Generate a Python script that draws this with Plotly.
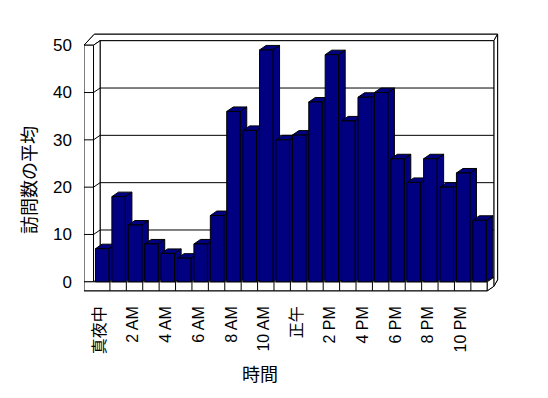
import plotly.graph_objects as go

# ---- data ----
hours = list(range(24))
visits = [7, 18, 12, 8, 6, 5, 8, 14, 36, 32, 49, 30, 31, 38, 48, 34, 39, 40, 26, 21, 26, 20, 23, 13]
tick_positions = [0, 2, 4, 6, 8, 10, 12, 14, 16, 18, 20, 22]
tick_labels = ["真夜中", "2 AM", "4 AM", "6 AM", "8 AM", "10 AM", "正午", "2 PM", "4 PM", "6 PM", "8 PM", "10 PM"]
y_ticks = [0, 10, 20, 30, 40, 50]
x_title = "時間"
y_title = "訪問数の平均"

# ---- 3D style constants (data units) ----
DX, DY = 0.40, 0.95      # depth offset
WX, WY = 0.23, 1.37      # wall thickness offset
L = -0.58                # outer left wall edge
F = 1.9                  # floor thickness
BX0, BX1 = 0.12, 0.94    # bar front face within category
N = len(hours)
YMAX = y_ticks[-1]
NAVY = "#000080"
FONT = "Liberation Sans, Noto Sans CJK JP, sans-serif"

traces = []


def poly(xs, ys, fill):
    traces.append(go.Scatter(x=xs + [xs[0]], y=ys + [ys[0]], mode="lines", fill="toself",
                             fillcolor=fill, line=dict(color="black", width=1),
                             hoverinfo="skip", showlegend=False))


def lines(segs):
    xs, ys = [], []
    for (x0, y0), (x1, y1) in segs:
        xs += [x0, x1, None]
        ys += [y0, y1, None]
    traces.append(go.Scatter(x=xs, y=ys, mode="lines", line=dict(color="black", width=1),
                             hoverinfo="skip", showlegend=False))


# outer silhouette
poly([L, L, L + DX + WX, N + DX + WX, N + DX + WX, N + DX, N],
     [-F, YMAX, YMAX + DY + WY, YMAX + DY + WY, DY + WY - F, DY - F, -F], "white")
# top strip of walls
poly([L, 0, DX, N + DX, N + DX + WX, L + DX + WX],
     [YMAX, YMAX, YMAX + DY, YMAX + DY, YMAX + DY + WY, YMAX + DY + WY], "white")
# back wall thickness on right
poly([N + DX, N + DX, N + DX + WX, N + DX + WX],
     [DY - F, YMAX + DY, YMAX + DY + WY, DY + WY - F], "white")
# back wall face
poly([DX, N + DX, N + DX, DX], [DY, DY, YMAX + DY, YMAX + DY], "white")
# left wall front end face
poly([L, 0, 0, L], [0, 0, YMAX, YMAX], "white")
# left wall inner face
poly([0, 0, DX, DX], [0, YMAX, YMAX + DY, DY], "white")
# floor front face
poly([L, N, N, L], [-F, -F, 0, 0], "white")
# floor right side
poly([N, N, N + DX, N + DX], [-F, 0, DY, DY - F], "white")

# gridlines
segs = []
for v in y_ticks[1:-1]:
    segs.append(((DX, v + DY), (N + DX, v + DY)))
    segs.append(((0, v), (DX, v + DY)))
    segs.append(((L, v), (0, v)))
for k in range(1, N):
    segs.append(((k, -F), (k, 0)))
lines(segs)

# bars
for h, v in zip(hours, visits):
    x0, x1 = h + BX0, h + BX1
    poly([x1, x1, x1 + DX, x1 + DX], [0, v, v + DY, DY], NAVY)          # side
    poly([x0, x1, x1 + DX, x0 + DX], [v, v, v + DY, v + DY], NAVY)      # top
    poly([x0, x1, x1, x0], [0, 0, v, v], NAVY)                          # front

fig = go.Figure(traces)

W, H = 548, 398
ml, mr, mt, mb = 84, 44, 31, 102
pw, ph = W - ml - mr, H - mt - mb

fig.update_layout(
    width=W, height=H,
    margin=dict(l=ml, r=mr, t=mt, b=mb, pad=0),
    paper_bgcolor="white", plot_bgcolor="white",
    showlegend=False,
    font=dict(family=FONT, color="black", size=16),
    xaxis=dict(range=[-0.58, 25.02], showgrid=False, zeroline=False, showline=False,
               tickvals=[p + 0.4 for p in tick_positions], ticktext=tick_labels,
               tickangle=-90, ticks="", ticklabelstandoff=6,
               tickfont=dict(family=FONT, size=16, color="black"), fixedrange=True),
    yaxis=dict(range=[-3, 53], showgrid=False, zeroline=False, showline=False,
               tickvals=y_ticks, ticks="", ticklabelstandoff=11,
               tickfont=dict(family=FONT, size=17, color="black"), fixedrange=True),
    annotations=[
        dict(text=x_title, xref="paper", yref="paper",
             x=(260 - ml) / pw, y=(H - mb - 375) / ph, xanchor="center", yanchor="middle",
             showarrow=False, font=dict(family=FONT, size=18, color="black")),
        dict(text=y_title, xref="paper", yref="paper", textangle=-90,
             x=(30 - ml) / pw, y=(H - mb - 180) / ph, xanchor="center", yanchor="middle",
             showarrow=False, font=dict(family=FONT, size=18, color="black")),
    ],
)

fig.write_html("out.html")
